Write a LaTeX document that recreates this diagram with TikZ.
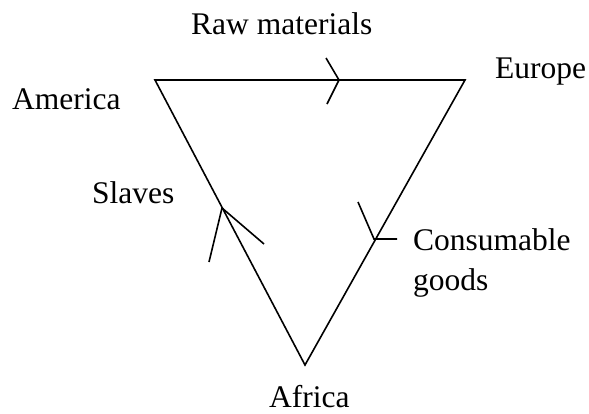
\documentclass[tikz,border=0pt]{standalone}
\usepackage{fontspec}
\setmainfont{Liberation Serif}
\begin{document}
\begin{tikzpicture}[x=1pt,y=-1pt,
  edge/.style={line width=1.6pt,line join=miter},
  head/.style={line width=1.6pt},
  lbl/.style={anchor=base west,inner sep=0pt,font=\fontsize{31.5}{36}\selectfont}]
\useasboundingbox (0,0) rectangle (589,413);
\coordinate (am) at (155,80);
\coordinate (eu) at (465,80);
\coordinate (af) at (305,365);
\draw[edge] (am) -- (eu) -- (af) -- cycle;
% arrow heads
\coordinate (t1) at (339,80);
\draw[head] (326,58) -- (t1) -- (327,104);
\coordinate (t2) at (222,208);
\draw[head] (209,262) -- (t2) -- (264,244);
\coordinate (t3) at (374,239);
\draw[head] (358,202) -- (t3) -- (397,239);
% labels
\node[lbl] (raw) at (191,34) {Raw materials};
\node[lbl] (europe) at (495,78) {Europe};
\node[lbl] (america) at (12,109) {America};
\node[lbl] (slaves) at (92,203) {Slaves};
\node[lbl] (cons) at (413,250) {Consumable};
\node[lbl] (goods) at (413,290) {goods};
\node[lbl] (africa) at (269,407) {Africa};
\end{tikzpicture}
\end{document}
